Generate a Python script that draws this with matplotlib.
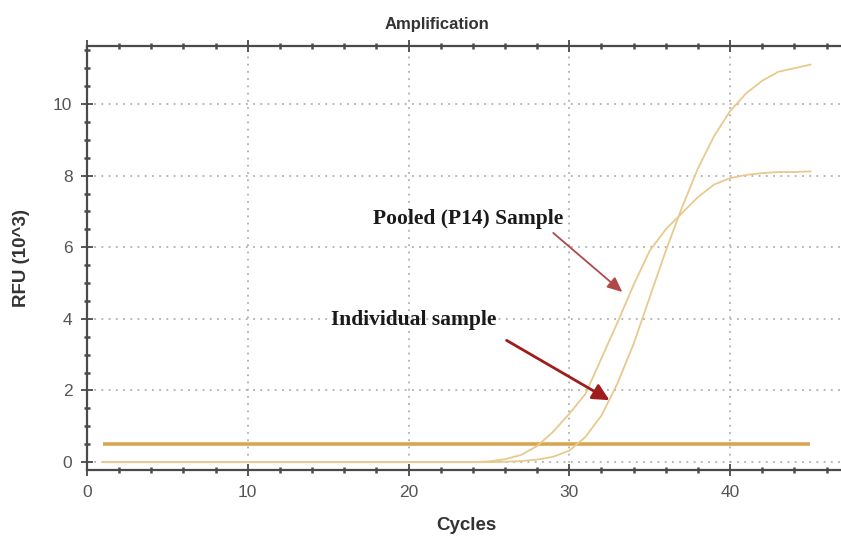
import matplotlib.pyplot as plt
from matplotlib.ticker import MultipleLocator

# qPCR amplification curves (RFU x 10^3)
cycles = list(range(1, 46))

pooled = [0.0] * 24 + [0.02, 0.08, 0.2, 0.45, 0.85, 1.35, 1.9, 2.9, 3.9, 4.95,
                       5.9, 6.5, 6.95, 7.4, 7.75, 7.93, 8.02, 8.07, 8.1, 8.1, 8.12]
individual = [0.0] * 25 + [0.01, 0.03, 0.07, 0.15, 0.32, 0.7, 1.3, 2.2, 3.3,
                           4.6, 5.9, 7.1, 8.2, 9.1, 9.8, 10.3, 10.65, 10.9, 11.0, 11.1]
threshold = [0.5] * 45

fig = plt.figure(figsize=(8.41, 5.38), dpi=100)
ax = fig.add_axes([0.1034, 0.1264, 0.8966, 0.7881])

ax.plot(cycles, threshold, color="#d9a552", lw=2.6, solid_capstyle="butt")
ax.plot(cycles, pooled, color="#e8c98e", lw=1.3)
ax.plot(cycles, individual, color="#e8c98e", lw=1.3)

ax.set_xlim(0, 46.9)
ax.set_ylim(-0.22, 11.62)

ax.xaxis.set_major_locator(MultipleLocator(10))
ax.xaxis.set_minor_locator(MultipleLocator(2))
ax.yaxis.set_major_locator(MultipleLocator(2))
ax.yaxis.set_minor_locator(MultipleLocator(0.5))

ax.grid(True, which="major", color="#b0b0b0", ls=(0, (1, 3)), lw=1.3)

for s in ["left", "bottom", "top"]:
    ax.spines[s].set_color("#4a4a4a")
    ax.spines[s].set_linewidth(1.6)
ax.spines["right"].set_visible(False)

ax.tick_params(which="major", direction="inout", length=9, width=1.3,
               color="#4a4a4a", labelcolor="#555555", labelsize=12.5,
               top=True, pad=6)
ax.tick_params(which="minor", direction="inout", length=5, width=1.8,
               color="#4a4a4a", top=True)
for lab in ax.get_xticklabels() + ax.get_yticklabels():
    lab.set_family("Liberation Sans")

fig.text(437 / 841, 1 - 25 / 538, "Amplification", ha="center", va="center",
         fontsize=12, fontweight="bold", color="#333333", family="Liberation Sans")
fig.text(22 / 841, 1 - 258 / 538, "RFU (10^3)", rotation=90, ha="center",
         va="center", fontsize=13.5, fontweight="bold", color="#333333",
         family="Liberation Sans")
fig.text(466 / 841, 1 - 526 / 538, "Cycles", ha="center", va="center",
         fontsize=13.5, fontweight="bold", color="#333333", family="Liberation Sans")

# labels
ax.text(23.7, 6.8, "Pooled (P14) Sample", ha="center", va="center",
        fontsize=15.5, fontweight="bold", family="Liberation Serif", color="#1a1a1a")
ax.text(20.3, 3.97, "Individual sample", ha="center", va="center",
        fontsize=15.5, fontweight="bold", family="Liberation Serif", color="#1a1a1a")

# arrows
ax.annotate("", xy=(33.3, 4.75), xytext=(29.0, 6.4),
            arrowprops=dict(arrowstyle="-|>,head_length=0.9,head_width=0.4",
                            color="#b04848", lw=1.3, shrinkA=0, shrinkB=0))
ax.annotate("", xy=(32.5, 1.73), xytext=(26.1, 3.4),
            arrowprops=dict(arrowstyle="-|>,head_length=1.0,head_width=0.5",
                            color="#a01c1c", lw=2.0, shrinkA=0, shrinkB=0))

fig.savefig("out.png", dpi=100)
